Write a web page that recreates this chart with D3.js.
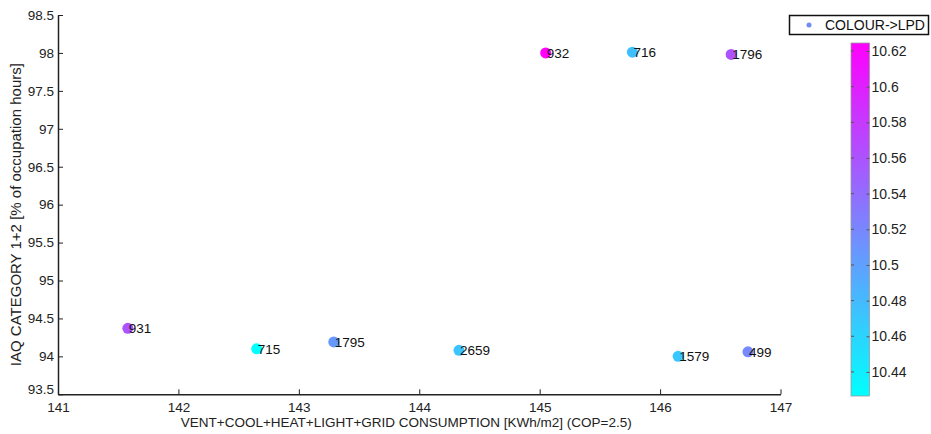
<!DOCTYPE html>
<html>
<head>
<meta charset="utf-8">
<script src="https://cdn.jsdelivr.net/npm/d3@7"></script>
<style>
  body { margin: 0; background: #fff; }
  svg { display: block; font-family: "Liberation Sans", Arial, sans-serif; }
</style>
</head>
<body>
<svg id="chart" width="931" height="434"></svg>
<script>
// Design cases: label, total consumption (kWh/m2), IAQ cat 1+2 (%), LPD
const caseLabels = ["932", "716", "1796", "931", "715", "1795", "2659", "1579", "499"];
const consumption = [145.05, 145.77, 146.59, 141.58, 142.65, 143.29, 144.33, 146.15, 146.73];
const iaq = [98.0, 98.01, 97.98, 94.37, 94.1, 94.19, 94.08, 94.0, 94.06];
const lpd = [10.6245, 10.476, 10.561, 10.561, 10.4265, 10.506, 10.472, 10.47, 10.518];

const xTicks = [141, 142, 143, 144, 145, 146, 147];
const yTicks = [93.5, 94, 94.5, 95, 95.5, 96, 96.5, 97, 97.5, 98, 98.5];
const cTicks = [10.44, 10.46, 10.48, 10.5, 10.52, 10.54, 10.56, 10.58, 10.6, 10.62];

const svg = d3.select("#chart");
const axisColor = "#222";

const x = d3.scaleLinear().domain([141, 147]).range([58, 780.5]);
const y = d3.scaleLinear().domain([93.5, 98.5]).range([394.3, 15]);

// MATLAB-style "cool" colormap: cyan -> magenta
const cMin = d3.min(lpd), cMax = d3.max(lpd);
const color = d3.scaleLinear().domain([cMin, cMax]).range(["#00ffff", "#ff00ff"]);

// Axes: ticks point inward, no box
const gx = svg.append("g").attr("transform", `translate(0,${y.range()[0]})`)
  .call(d3.axisBottom(x).tickValues(xTicks).tickFormat(d3.format("d")).tickSizeInner(-5).tickSizeOuter(0).tickPadding(6));
const gy = svg.append("g").attr("transform", `translate(${x.range()[0]},0)`)
  .call(d3.axisLeft(y).tickValues(yTicks).tickFormat(d => String(d)).tickSizeInner(-5).tickSizeOuter(0).tickPadding(4));

[gx, gy].forEach(g => {
  g.select(".domain").attr("stroke", axisColor).attr("stroke-width", 1.5);
  g.selectAll(".tick line").attr("stroke", axisColor).attr("stroke-width", 1);
  g.selectAll(".tick text").attr("fill", "#222").attr("font-size", 13.5)
    .attr("font-family", "Liberation Sans, Arial, sans-serif");
});
gx.selectAll(".tick text").attr("dy", "0.85em");
// last y label sits a little above the corner, first x label below it
gy.selectAll(".tick text").filter(d => d === 93.5).attr("dy", "-0.05em");

// Axis titles
svg.append("text")
  .attr("x", (x.range()[0] + x.range()[1]) / 2 - 13)
  .attr("y", 427)
  .attr("text-anchor", "middle")
  .attr("font-size", 13.5)
  .attr("fill", "#222")
  .text("VENT+COOL+HEAT+LIGHT+GRID CONSUMPTION [KWh/m2] (COP=2.5)");

svg.append("text")
  .attr("transform", `translate(21,${(y.range()[0] + y.range()[1]) / 2 + 10}) rotate(-90)`)
  .attr("text-anchor", "middle")
  .attr("font-size", 15)
  .attr("fill", "#222")
  .text("IAQ CATEGORY 1+2 [% of occupation hours]");

// Points
const data = caseLabels.map((lab, i) => ({ lab, cx: consumption[i], iq: iaq[i], c: lpd[i] }));
const pts = svg.append("g");
pts.selectAll("circle").data(data).join("circle")
  .attr("cx", d => x(d.cx))
  .attr("cy", d => y(d.iq))
  .attr("r", 5.5)
  .attr("fill", d => color(d.c));
pts.selectAll("text").data(data).join("text")
  .attr("x", d => x(d.cx) + 1)
  .attr("y", d => y(d.iq) + 5)
  .attr("font-size", 13.5)
  .attr("fill", "#111")
  .text(d => d.lab);

// Legend box
const lg = svg.append("g");
lg.append("rect").attr("x", 789.5).attr("y", 15.5).attr("width", 139).attr("height", 19)
  .attr("fill", "#fff").attr("stroke", "#111").attr("stroke-width", 1.5);
lg.append("circle").attr("cx", 809).attr("cy", 25).attr("r", 2.5).attr("fill", "#6f8cf5");
lg.append("text").attr("x", 825).attr("y", 30).attr("font-size", 14).attr("fill", "#111")
  .text("COLOUR->LPD");

// Colour bar
const cb = { x: 851, w: 18.5, top: 43, bottom: 396 };
const cScale = d3.scaleLinear().domain([cMin, cMax]).range([cb.bottom, cb.top]);
const defs = svg.append("defs");
const grad = defs.append("linearGradient").attr("id", "cbar")
  .attr("x1", 0).attr("y1", 1).attr("x2", 0).attr("y2", 0);
grad.append("stop").attr("offset", 0).attr("stop-color", color(cMin));
grad.append("stop").attr("offset", 1).attr("stop-color", color(cMax));
svg.append("rect").attr("x", cb.x).attr("y", cb.top).attr("width", cb.w).attr("height", cb.bottom - cb.top)
  .attr("fill", "url(#cbar)").attr("stroke", "#999").attr("stroke-width", 0.8);

const cAxis = svg.append("g").attr("transform", `translate(${cb.x + cb.w},0)`)
  .call(d3.axisRight(cScale).tickValues(cTicks).tickFormat(d => String(d)).tickSizeInner(-3).tickSizeOuter(0).tickPadding(2));
cAxis.select(".domain").remove();
cAxis.selectAll(".tick line").attr("stroke", "#555");
cAxis.selectAll(".tick text").attr("font-size", 14).attr("fill", "#222")
  .attr("font-family", "Liberation Sans, Arial, sans-serif");
// matching tick marks on the left edge of the bar
svg.append("g").selectAll("line").data(cTicks).join("line")
  .attr("x1", cb.x).attr("x2", cb.x + 3)
  .attr("y1", d => cScale(d)).attr("y2", d => cScale(d))
  .attr("stroke", "#555");
</script>
</body>
</html>
